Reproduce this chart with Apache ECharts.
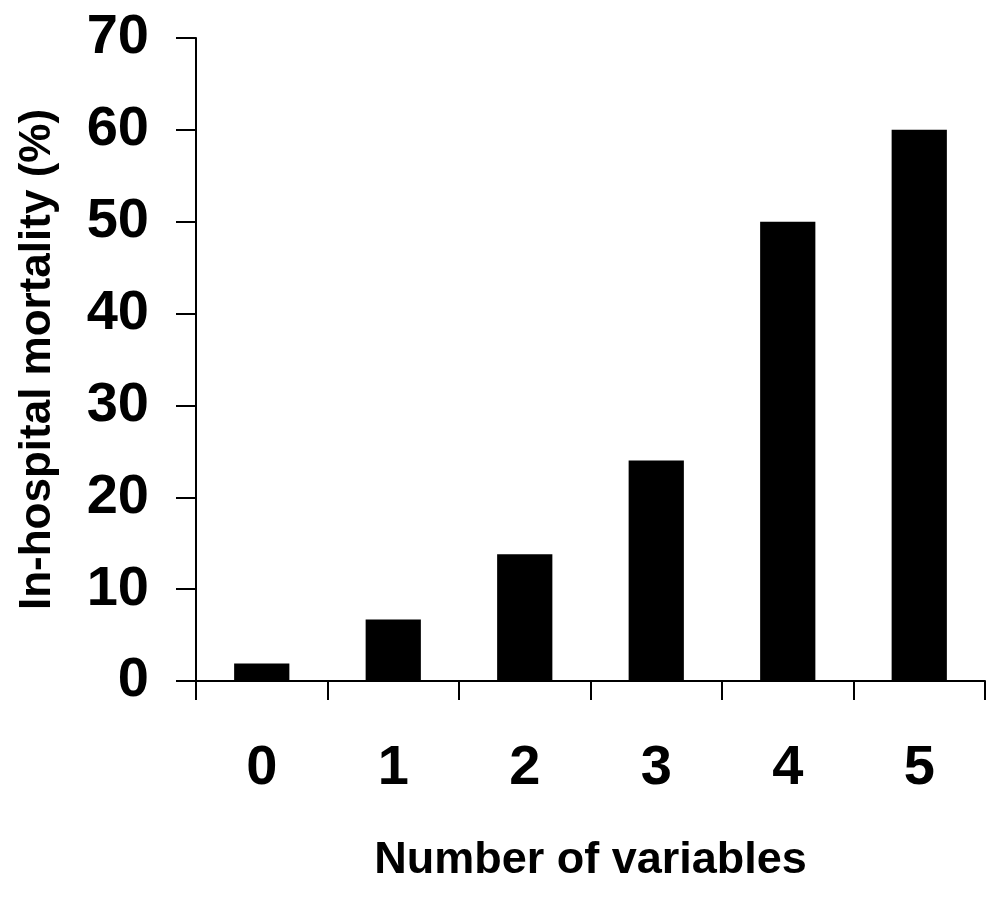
<!DOCTYPE html>
<html>
<head>
<meta charset="utf-8">
<script src="https://cdn.jsdelivr.net/npm/echarts@6/dist/echarts.min.js"></script>
<style>
html,body{margin:0;padding:0;background:#fff;}
#chart{width:1004px;height:901px;}
</style>
</head>
<body>
<div id="chart"></div>
<script>
var categories = ['0', '1', '2', '3', '4', '5'];
var mortality = [1.9, 6.7, 13.8, 24.0, 50.0, 60.0];
var yTicks = { min: 0, max: 70, interval: 10 };
var xAxisTitle = 'Number of variables';
var yAxisTitle = 'In-hospital mortality (%)';

var FONT = '"Liberation Sans", Arial, Helvetica, sans-serif';
var chart = echarts.init(document.getElementById('chart'), null, { renderer: 'canvas' });
chart.setOption({
  backgroundColor: '#ffffff',
  animation: false,
  grid: { left: 196, right: 19, top: 38, bottom: 220, containLabel: false },
  xAxis: {
    type: 'category',
    data: categories,
    name: xAxisTitle,
    nameLocation: 'middle',
    nameGap: 157,
    nameTextStyle: { fontFamily: FONT, fontWeight: 'bold', fontSize: 45, color: '#000' },
    axisLine: { lineStyle: { color: '#000', width: 2 } },
    axisTick: { show: true, length: 19, lineStyle: { color: '#000', width: 2 } },
    axisLabel: { fontFamily: FONT, fontWeight: 'bold', fontSize: 56, color: '#000', margin: 60 },
    splitLine: { show: false }
  },
  yAxis: {
    type: 'value',
    min: yTicks.min,
    max: yTicks.max,
    interval: yTicks.interval,
    name: yAxisTitle,
    nameLocation: 'middle',
    nameGap: 136,
    nameRotate: 90,
    nameTextStyle: { fontFamily: FONT, fontWeight: 'bold', fontSize: 44, color: '#000' },
    axisLine: { show: true, lineStyle: { color: '#000', width: 2 } },
    axisTick: { show: true, length: 20, lineStyle: { color: '#000', width: 2 } },
    axisLabel: { fontFamily: FONT, fontWeight: 'bold', fontSize: 56, color: '#000', margin: 47 },
    splitLine: { show: false }
  },
  series: [{
    type: 'bar',
    data: mortality,
    barWidth: '42%',
    itemStyle: { color: '#000' }
  }]
});
</script>
</body>
</html>
